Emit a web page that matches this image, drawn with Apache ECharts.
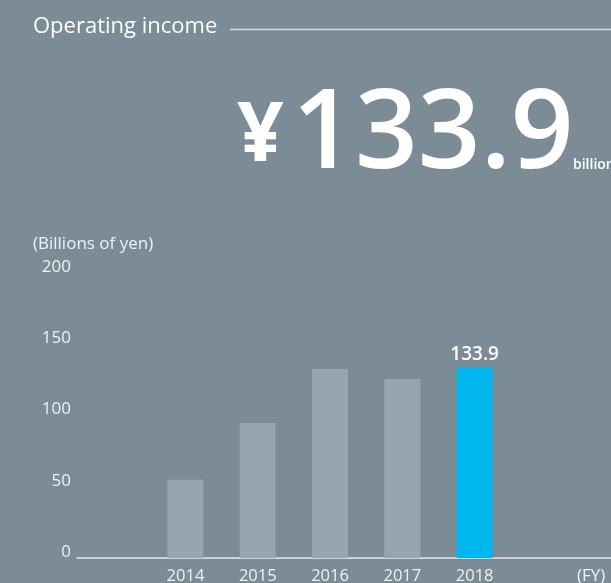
<!DOCTYPE html>
<html>
<head>
<meta charset="utf-8">
<script src="https://cdn.jsdelivr.net/npm/echarts@6/dist/echarts.min.js"></script>
<style>
html,body{margin:0;padding:0;background:#7c8c96;}
#chart{width:611px;height:583px;}
</style>
</head>
<body>
<div id="chart"></div>
<script>
// ---- data ----
var years = ['2014', '2015', '2016', '2017', '2018'];
var incomeValues = [54.9, 94.8, 132.7, 125.7, 133.9];
var yTicks = [0, 50, 100, 150, 200];
var highlightYear = '2018';
var titleText = 'Operating income';
var headlineYen = '¥';
var headlineValue = '133.9';
var headlineUnit = 'billion yen';
var unitLabel = '(Billions of yen)';
var fyLabel = '(FY)';

// ---- build ----
var FONT = '"Open Sans", "Noto Sans", sans-serif';
var categories = [''].concat(years, ['', '']);
var seriesData = [null].concat(incomeValues.map(function (v, i) {
  var hl = years[i] === highlightYear;
  return {
    value: v,
    itemStyle: { color: hl ? '#00b6ee' : '#96a6ae' },
    label: {
      show: hl, position: 'top', distance: 3,
      color: '#ffffff', fontSize: 19, fontWeight: 600, fontFamily: FONT,
      formatter: function (p) { return p.value.toFixed(1); }
    }
  };
}), [null, null]);

var chart = echarts.init(document.getElementById('chart'));
chart.setOption({
  backgroundColor: '#7c8c96',
  animation: false,
  grid: { left: 77, top: 273, height: 285, width: 8 * 72.3, outerBoundsMode: 'none', containLabel: false },
  xAxis: {
    type: 'category',
    data: categories,
    axisLine: { lineStyle: { color: '#e8ecee', width: 1.5 } },
    axisTick: { show: false },
    axisLabel: { color: '#eef1f3', fontSize: 16.5, fontFamily: FONT, margin: 10, interval: 0 }
  },
  yAxis: {
    type: 'value',
    min: yTicks[0], max: yTicks[yTicks.length - 1], interval: 50,
    axisLine: { show: false },
    axisTick: { show: false },
    splitLine: { show: false },
    axisLabel: { color: '#eef1f3', fontSize: 17, fontFamily: FONT, margin: 6, verticalAlign: 'bottom', lineHeight: 12 }
  },
  series: [{
    type: 'bar',
    data: seriesData,
    barWidth: 36
  }],
  graphic: [
    { type: 'text', x: 33, y: 27, style: { text: titleText, fill: '#ffffff', font: '500 22px ' + FONT, verticalAlign: 'middle' } },
    { type: 'line', shape: { x1: 230, y1: 29.5, x2: 611, y2: 29.5 }, style: { stroke: '#d5dce0', lineWidth: 1.5 } },
    { type: 'text', x: 237, y: 138, style: { text: headlineYen, fill: '#ffffff', font: '700 82px ' + FONT, verticalAlign: 'middle' } },
    { type: 'text', x: 292, y: 137, style: { text: headlineValue, fill: '#ffffff', font: '600 110px ' + FONT, verticalAlign: 'middle' } },
    { type: 'text', x: 573, y: 172, style: { text: headlineUnit, fill: '#ffffff', font: '600 14px ' + FONT, verticalAlign: 'bottom' } },
    { type: 'text', x: 33, y: 244, style: { text: unitLabel, fill: '#eef1f3', font: '17px ' + FONT, verticalAlign: 'middle' } },
    { type: 'text', x: 577, y: 576, style: { text: fyLabel, fill: '#eef1f3', font: '17px ' + FONT, verticalAlign: 'middle' } }
  ]
});
</script>
</body>
</html>
